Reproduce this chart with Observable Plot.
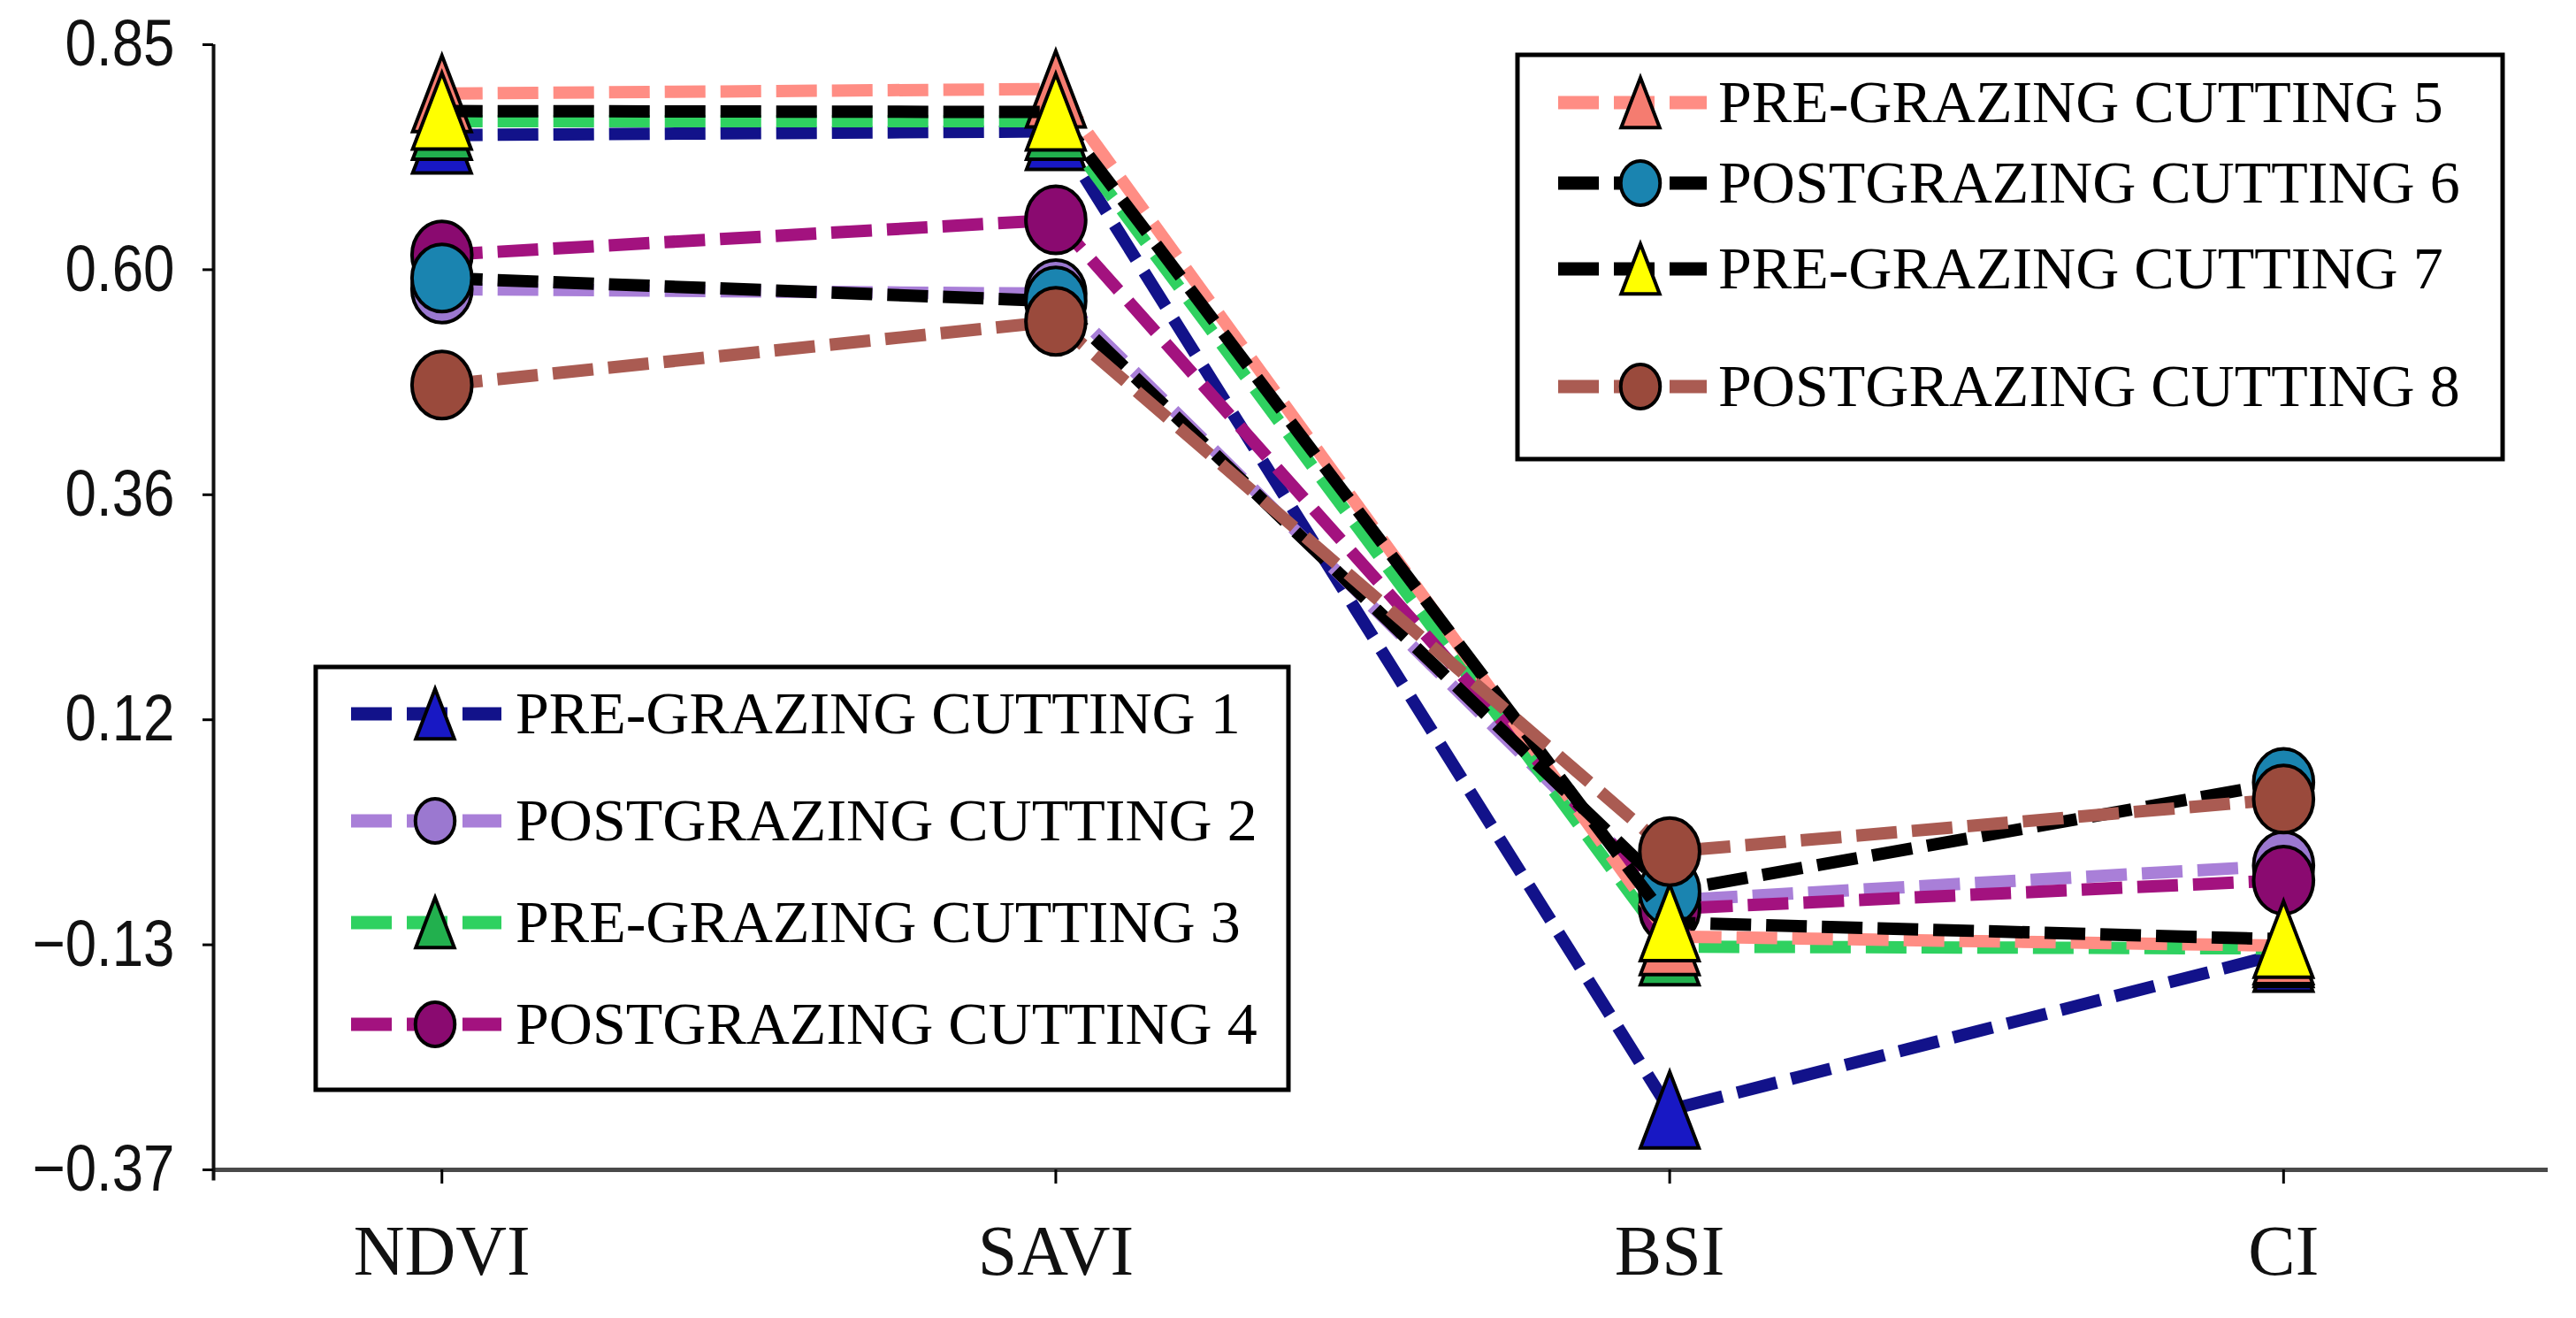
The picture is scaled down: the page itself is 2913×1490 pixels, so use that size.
<!DOCTYPE html>
<html>
<head>
<meta charset="utf-8">
<script src="https://cdn.jsdelivr.net/npm/d3@7"></script>
<script src="https://cdn.jsdelivr.net/npm/@observablehq/plot@0.6"></script>
<style>
  html, body { margin: 0; padding: 0; background: #fff; }
  #wrap { position: relative; width: 2913px; height: 1490px; overflow: hidden; }
  #overlay { position: absolute; left: 0; top: 0; pointer-events: none; }
</style>
</head>
<body>
<div id="wrap"></div>
<script>
// ---------- data ----------
const indices = ["NDVI", "SAVI", "BSI", "CI"];
const seriesNames = [
  "PRE-GRAZING CUTTING 1",
  "POSTGRAZING CUTTING 2",
  "PRE-GRAZING CUTTING 3",
  "POSTGRAZING CUTTING 4",
  "PRE-GRAZING CUTTING 5",
  "POSTGRAZING CUTTING 6",
  "PRE-GRAZING CUTTING 7",
  "POSTGRAZING CUTTING 8"
];
const cutting1 = [0.752, 0.756, -0.305, -0.135];
const cutting2 = [0.585, 0.580, -0.078, -0.040];
const cutting3 = [0.767, 0.767, -0.128, -0.130];
const cutting4 = [0.622, 0.660, -0.087, -0.056];
const cutting5 = [0.797, 0.802, -0.117, -0.127];
const cutting6 = [0.597, 0.572, -0.068, 0.050];
const cutting7 = [0.778, 0.777, -0.102, -0.120];
const cutting8 = [0.481, 0.550, -0.025, 0.032];
const yTickLabels = ["−0.37", "−0.13", "0.12", "0.36", "0.60", "0.85"];

// ---------- styles ----------
const lineColors  = ["#12128a", "#a97fd8", "#2fd160", "#a3127f", "#ff8d84", "#000000", "#000000", "#aa5b52"];
const markerFills = ["#1818c4", "#9b78d0", "#22b04e", "#8a0a70", "#f57c70", "#1a84b0", "#ffff00", "#9a4a3c"];
const markerShapes = ["triangle", "circle", "triangle", "circle", "triangle", "circle", "triangle", "circle"];

const allSeries = [cutting1, cutting2, cutting3, cutting4, cutting5, cutting6, cutting7, cutting8];

// custom symbols (tall triangle, slightly tall ellipse)
const tallTriangle = {
  draw(ctx, size) {
    const r = Math.sqrt(size / Math.PI);
    const w = r * 0.87, h = r * 1.13;
    ctx.moveTo(0, -h); ctx.lineTo(w, h); ctx.lineTo(-w, h); ctx.closePath();
  }
};
const tallEllipse = {
  draw(ctx, size) {
    const r = Math.sqrt(size / Math.PI);
    const rx = r * 0.89, ry = r, k = 0.5523;
    ctx.moveTo(rx, 0);
    ctx.bezierCurveTo(rx, ry * k, rx * k, ry, 0, ry);
    ctx.bezierCurveTo(-rx * k, ry, -rx, ry * k, -rx, 0);
    ctx.bezierCurveTo(-rx, -ry * k, -rx * k, -ry, 0, -ry);
    ctx.bezierCurveTo(rx * k, -ry, rx, -ry * k, rx, 0);
    ctx.closePath();
  }
};
const symbolFor = s => (s === "triangle" ? tallTriangle : tallEllipse);

// ---------- scales ----------
const yDomain = [-0.37, 0.85];
const xDomain = [-0.372, 3.431];
const yTicks = yTickLabels.map((_, i) => yDomain[0] + i * (yDomain[1] - yDomain[0]) / (yTickLabels.length - 1));
const xTicks = indices.map((_, i) => i);

const rowsFor = s => allSeries[s].map((v, i) => ({i, v, s}));

const seriesMarks = allSeries.flatMap((_, s) => [
  Plot.line(rowsFor(s), {
    x: "i", y: "v",
    stroke: lineColors[s], strokeWidth: 14,
    strokeDasharray: "46,17", strokeLinecap: "butt", strokeLinejoin: "miter"
  }),
  Plot.dot(rowsFor(s), {
    x: "i", y: "v",
    symbol: symbolFor(markerShapes[s]), r: 38,
    fill: markerFills[s], stroke: "#000", strokeWidth: 4
  })
]);

const chart = Plot.plot({
  width: 2913,
  height: 1490,
  marginLeft: 241,
  marginRight: 32,
  marginTop: 50,
  marginBottom: 168,
  style: {background: "#fff", overflow: "visible"},
  x: {type: "linear", domain: xDomain},
  y: {type: "linear", domain: yDomain},
  marks: [
    Plot.ruleY([yDomain[0]], {stroke: "#4a4a4a", strokeWidth: 5}),
    Plot.ruleX([xDomain[0]], {y1: yDomain[0] - 0.012, y2: yDomain[1], stroke: "#111", strokeWidth: 4}),
    Plot.axisY({
      ticks: yTicks,
      tickFormat: d => yTickLabels[yTicks.findIndex(t => Math.abs(t - d) < 1e-9)],
      tickSize: 12, tickPadding: 32, strokeWidth: 3,
      fontSize: 74, fontFamily: "'Liberation Sans', Arial, sans-serif",
      fill: "#111", label: null
    }),
    Plot.axisX({
      ticks: xTicks,
      tickFormat: d => indices[d],
      tickSize: 16, tickPadding: 46, strokeWidth: 3,
      fontSize: 80, fontFamily: "'Liberation Serif', 'Times New Roman', serif",
      fill: "#111", label: null
    }),
    ...seriesMarks
  ]
});
document.getElementById("wrap").appendChild(chart);

// condense the y tick labels (narrow sans look)
d3.select(chart).selectAll('g[aria-label="y-axis tick label"] text').each(function() {
  const len = this.getComputedTextLength();
  if (len > 0) {
    this.setAttribute("textLength", (len * 0.86).toFixed(1));
    this.setAttribute("lengthAdjust", "spacingAndGlyphs");
  }
});

// ---------- legends (overlay) ----------
const legendLayout = [
  {box: [357, 754, 1100, 478], rows: [807, 928, 1043, 1158], series: [0, 1, 2, 3], lineX: [397, 567], markX: 492, textX: 583},
  {box: [1716, 62, 1114, 457], rows: [116, 207, 304, 437], series: [4, 5, 6, 7], lineX: [1762, 1930], markX: 1855, textX: 1943}
];

const overlay = d3.select("#wrap").append("svg")
  .attr("id", "overlay")
  .attr("width", 2913).attr("height", 1490);

legendLayout.forEach(L => {
  const g = overlay.append("g");
  g.append("rect")
    .attr("x", L.box[0]).attr("y", L.box[1])
    .attr("width", L.box[2]).attr("height", L.box[3])
    .attr("fill", "#fff").attr("stroke", "#000").attr("stroke-width", 5);
  L.series.forEach((s, k) => {
    const cy = L.rows[k];
    g.append("line")
      .attr("x1", L.lineX[0]).attr("x2", L.lineX[1])
      .attr("y1", cy).attr("y2", cy)
      .attr("stroke", lineColors[s]).attr("stroke-width", 15)
      .attr("stroke-dasharray", "46,17");
    const p = d3.path();
    symbolFor(markerShapes[s]).draw(p, 25 * 25 * Math.PI);
    g.append("path")
      .attr("d", p.toString())
      .attr("transform", `translate(${L.markX},${cy})`)
      .attr("fill", markerFills[s]).attr("stroke", "#000").attr("stroke-width", 4);
    g.append("text")
      .attr("x", L.textX).attr("y", cy + 22)
      .attr("font-family", "'Liberation Serif', 'Times New Roman', serif")
      .attr("font-size", 68)
      .attr("fill", "#000")
      .text(seriesNames[s]);
  });
});
</script>
</body>
</html>
